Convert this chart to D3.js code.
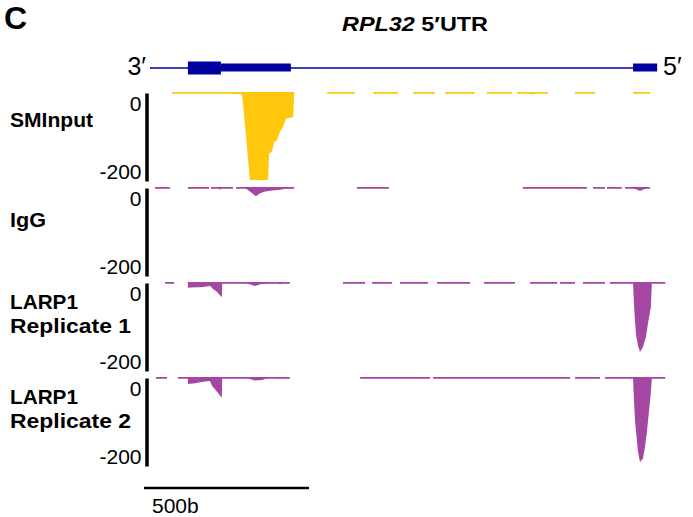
<!DOCTYPE html>
<html>
<head>
<meta charset="utf-8">
<script src="https://cdn.jsdelivr.net/npm/d3@7"></script>
<style>
  html, body { margin: 0; padding: 0; background: #fff; }
  svg { display: block; font-family: "Liberation Sans", Arial, Helvetica, sans-serif; }
</style>
</head>
<body>
<svg id="chart" width="693" height="517"></svg>
<script>
// ---------------- DATA (genomic positions in bases, relative) ----------------
const trackNames = [["SMInput"], ["IgG"], ["LARP1", "Replicate 1"], ["LARP1", "Replicate 2"]];
const yTicks = [0, -200];
const yDomain = [-200, 0];
const lowCoverage = -4;          // value of the thin low-coverage runs
const scaleBarBases = 500;
const scaleBarLabel = "500b";

// gene model (RPL32, minus strand: 3' on the left, 5' on the right)
const intronSpan = [18, 1482];
const exonStarts = [133, 233, 1482];
const exonEnds   = [233, 445, 1555];
const exonKinds  = ["thick", "thin", "thin"];

// SMInput
const smInputRuns = [[85, 267], [267, 455], [555, 639], [694, 770], [815, 882], [912, 1003],
  [1039, 1115], [1130, 1224], [1306, 1367], [1482, 1533]];
const smInputPeaks = [
  [[267, -3], [297, -5], [303, -50], [309, -100], [315, -150], [321, -260], [376, -260],
   [379, -140], [388, -136], [394, -114], [403, -110], [412, -91], [421, -80], [430, -61],
   [442, -59], [452, -57], [455, -3]],
  [[1170, -3], [1176, -6], [1182, -3]]
];

// IgG
const igGRuns = [[33, 79], [133, 197], [203, 270], [279, 455], [645, 742], [1148, 1342],
  [1361, 1397], [1403, 1448], [1458, 1533]];
const igGPeaks = [
  [[224, -2], [230, -6], [236, -2]],
  [[306, -2], [321, -10], [339, -21], [352, -14], [367, -10], [388, -8], [412, -6], [436, -3], [455, -2]],
  [[1482, -2], [1503, -9], [1524, -2]]
];

// LARP1 replicate 1
const rep1Runs = [[64, 91], [133, 442], [603, 670], [691, 752], [776, 861], [888, 988],
  [1030, 1124], [1170, 1252], [1261, 1306], [1330, 1397], [1412, 1482], [1539, 1580]];
const rep1Peaks = [
  [[133, -13], [155, -12], [170, -12], [185, -11], [197, -9], [203, -10], [209, -16],
   [221, -22], [230, -30], [236, -34], [237, -2]],
  [[309, -2], [315, -4], [336, -9], [358, -4], [382, -2]],
  [[403, -2], [412, -5], [421, -2]],
  [[1482, -3], [1485, -55], [1488, -90], [1491, -120], [1497, -145], [1503, -159],
   [1512, -148], [1521, -125], [1527, -95], [1536, -57], [1539, -3]]
];

// LARP1 replicate 2
const rep2Runs = [[36, 70], [103, 442], [655, 867], [876, 1291], [1306, 1382],
  [1397, 1485], [1539, 1580]];
const rep2Peaks = [
  [[133, -16], [155, -14], [170, -12], [185, -10], [200, -9], [206, -20], [215, -28],
   [224, -36], [233, -45], [236, -46], [237, -2]],
  [[309, -2], [312, -3], [336, -8], [358, -7], [373, -3], [380, -2]],
  [[403, -2], [412, -4], [421, -2]],
  [[1482, -3], [1485, -57], [1488, -100], [1494, -148], [1497, -170], [1503, -193],
   [1512, -185], [1518, -160], [1524, -125], [1530, -80], [1536, -34], [1539, -3]]
];

// ---------------- LAYOUT / STYLE ----------------
const YELLOW = "#FFC80C";
const PURPLE = "#A347A3";
const BLUE = "#00009E";

const tracks = [
  { runs: smInputRuns, peaks: smInputPeaks, color: YELLOW },
  { runs: igGRuns, peaks: igGPeaks, color: PURPLE },
  { runs: rep1Runs, peaks: rep1Peaks, color: PURPLE },
  { runs: rep2Runs, peaks: rep2Peaks, color: PURPLE }
];
const labelWidths = [[83], [36], [68, 121], [68, 121]];

const svg = d3.select("#chart");
const x = d3.scaleLinear().domain([0, 1600]).range([144, 144 + 1600 * 0.33]);

// panel letter
svg.append("text").attr("x", 4).attr("y", 29)
  .attr("font-size", 32).attr("font-weight", "bold").text("C");

// title
const title = svg.append("text").attr("x", 342).attr("y", 31)
  .attr("font-size", 21).attr("font-weight", "bold")
  .attr("textLength", 146).attr("lengthAdjust", "spacingAndGlyphs");
title.append("tspan").attr("font-style", "italic").text("RPL32");
title.append("tspan").text(" 5\u2032UTR");

// gene model
const geneY = 68;
const gene = svg.append("g");
gene.append("line")
  .attr("x1", x(intronSpan[0])).attr("x2", x(intronSpan[1]))
  .attr("y1", geneY).attr("y2", geneY)
  .attr("stroke", BLUE).attr("stroke-width", 1.5);
const exonH = { thick: 13, thin: 8 };
gene.selectAll("rect").data(exonStarts.map((s, i) => ({ s, e: exonEnds[i], k: exonKinds[i] })))
  .join("rect")
  .attr("x", d => x(d.s)).attr("width", d => x(d.e) - x(d.s))
  .attr("y", d => geneY - exonH[d.k] / 2 - (d.k === "thick" ? 0 : 0.5)).attr("height", d => exonH[d.k])
  .attr("fill", BLUE);
svg.append("text").attr("x", 146).attr("y", 75).attr("text-anchor", "end")
  .attr("font-size", 25).text("3\u2032");
svg.append("text").attr("x", 663).attr("y", 75)
  .attr("font-size", 25).text("5\u2032");

// tracks
const area = d3.area().curve(d3.curveLinear);
tracks.forEach((t, i) => {
  const top = 92 + 95 * i;
  const y = d3.scaleLinear().domain(yDomain).range([top + 88, top]).clamp(true);
  const g = svg.append("g");

  // low coverage runs
  g.selectAll("rect.run").data(t.runs).join("rect").attr("class", "run")
    .attr("x", d => x(d[0])).attr("width", d => x(d[1]) - x(d[0]))
    .attr("y", y(0)).attr("height", y(lowCoverage) - y(0))
    .attr("fill", t.color);

  // peaks
  area.x(d => x(d[0])).y0(y(0)).y1(d => y(d[1]));
  g.selectAll("path.peak").data(t.peaks).join("path").attr("class", "peak")
    .attr("d", area).attr("fill", t.color);

  // axis bar
  const axisY = d3.scaleLinear().domain(yDomain).range([top + 89, top + 1]);
  const ax = svg.append("g").attr("transform", "translate(146.5,0)")
    .call(d3.axisLeft(axisY).tickValues(yTicks).tickSize(0).tickPadding(5)
      .tickFormat(d => d === 0 ? "0" : "-200"));
  ax.select(".domain").attr("stroke", "#000").attr("stroke-width", 3.5);
  ax.selectAll(".tick text")
    .attr("font-size", 21).attr("font-family", "Liberation Sans, Arial, sans-serif")
    .attr("fill", "#000")
    .attr("dy", d => d === 0 ? "0.85em" : "-0.1em");

  // label
  const lines = trackNames[i];
  const baseY = lines.length === 1 ? top + (i === 0 ? 35 : 40) : top + 27;
  lines.forEach((ln, j) => {
    svg.append("text").attr("x", 10).attr("y", baseY + j * 23.5)
      .attr("font-size", 20).attr("font-weight", "bold")
      .attr("textLength", labelWidths[i][j]).attr("lengthAdjust", "spacingAndGlyphs")
      .text(ln);
  });
});

// scale bar
const sbY = 488;
svg.append("line").attr("x1", x(0)).attr("x2", x(scaleBarBases))
  .attr("y1", sbY).attr("y2", sbY).attr("stroke", "#000").attr("stroke-width", 2.5);
svg.append("text").attr("x", 152).attr("y", 513).attr("font-size", 21).text(scaleBarLabel);
</script>
</body>
</html>
